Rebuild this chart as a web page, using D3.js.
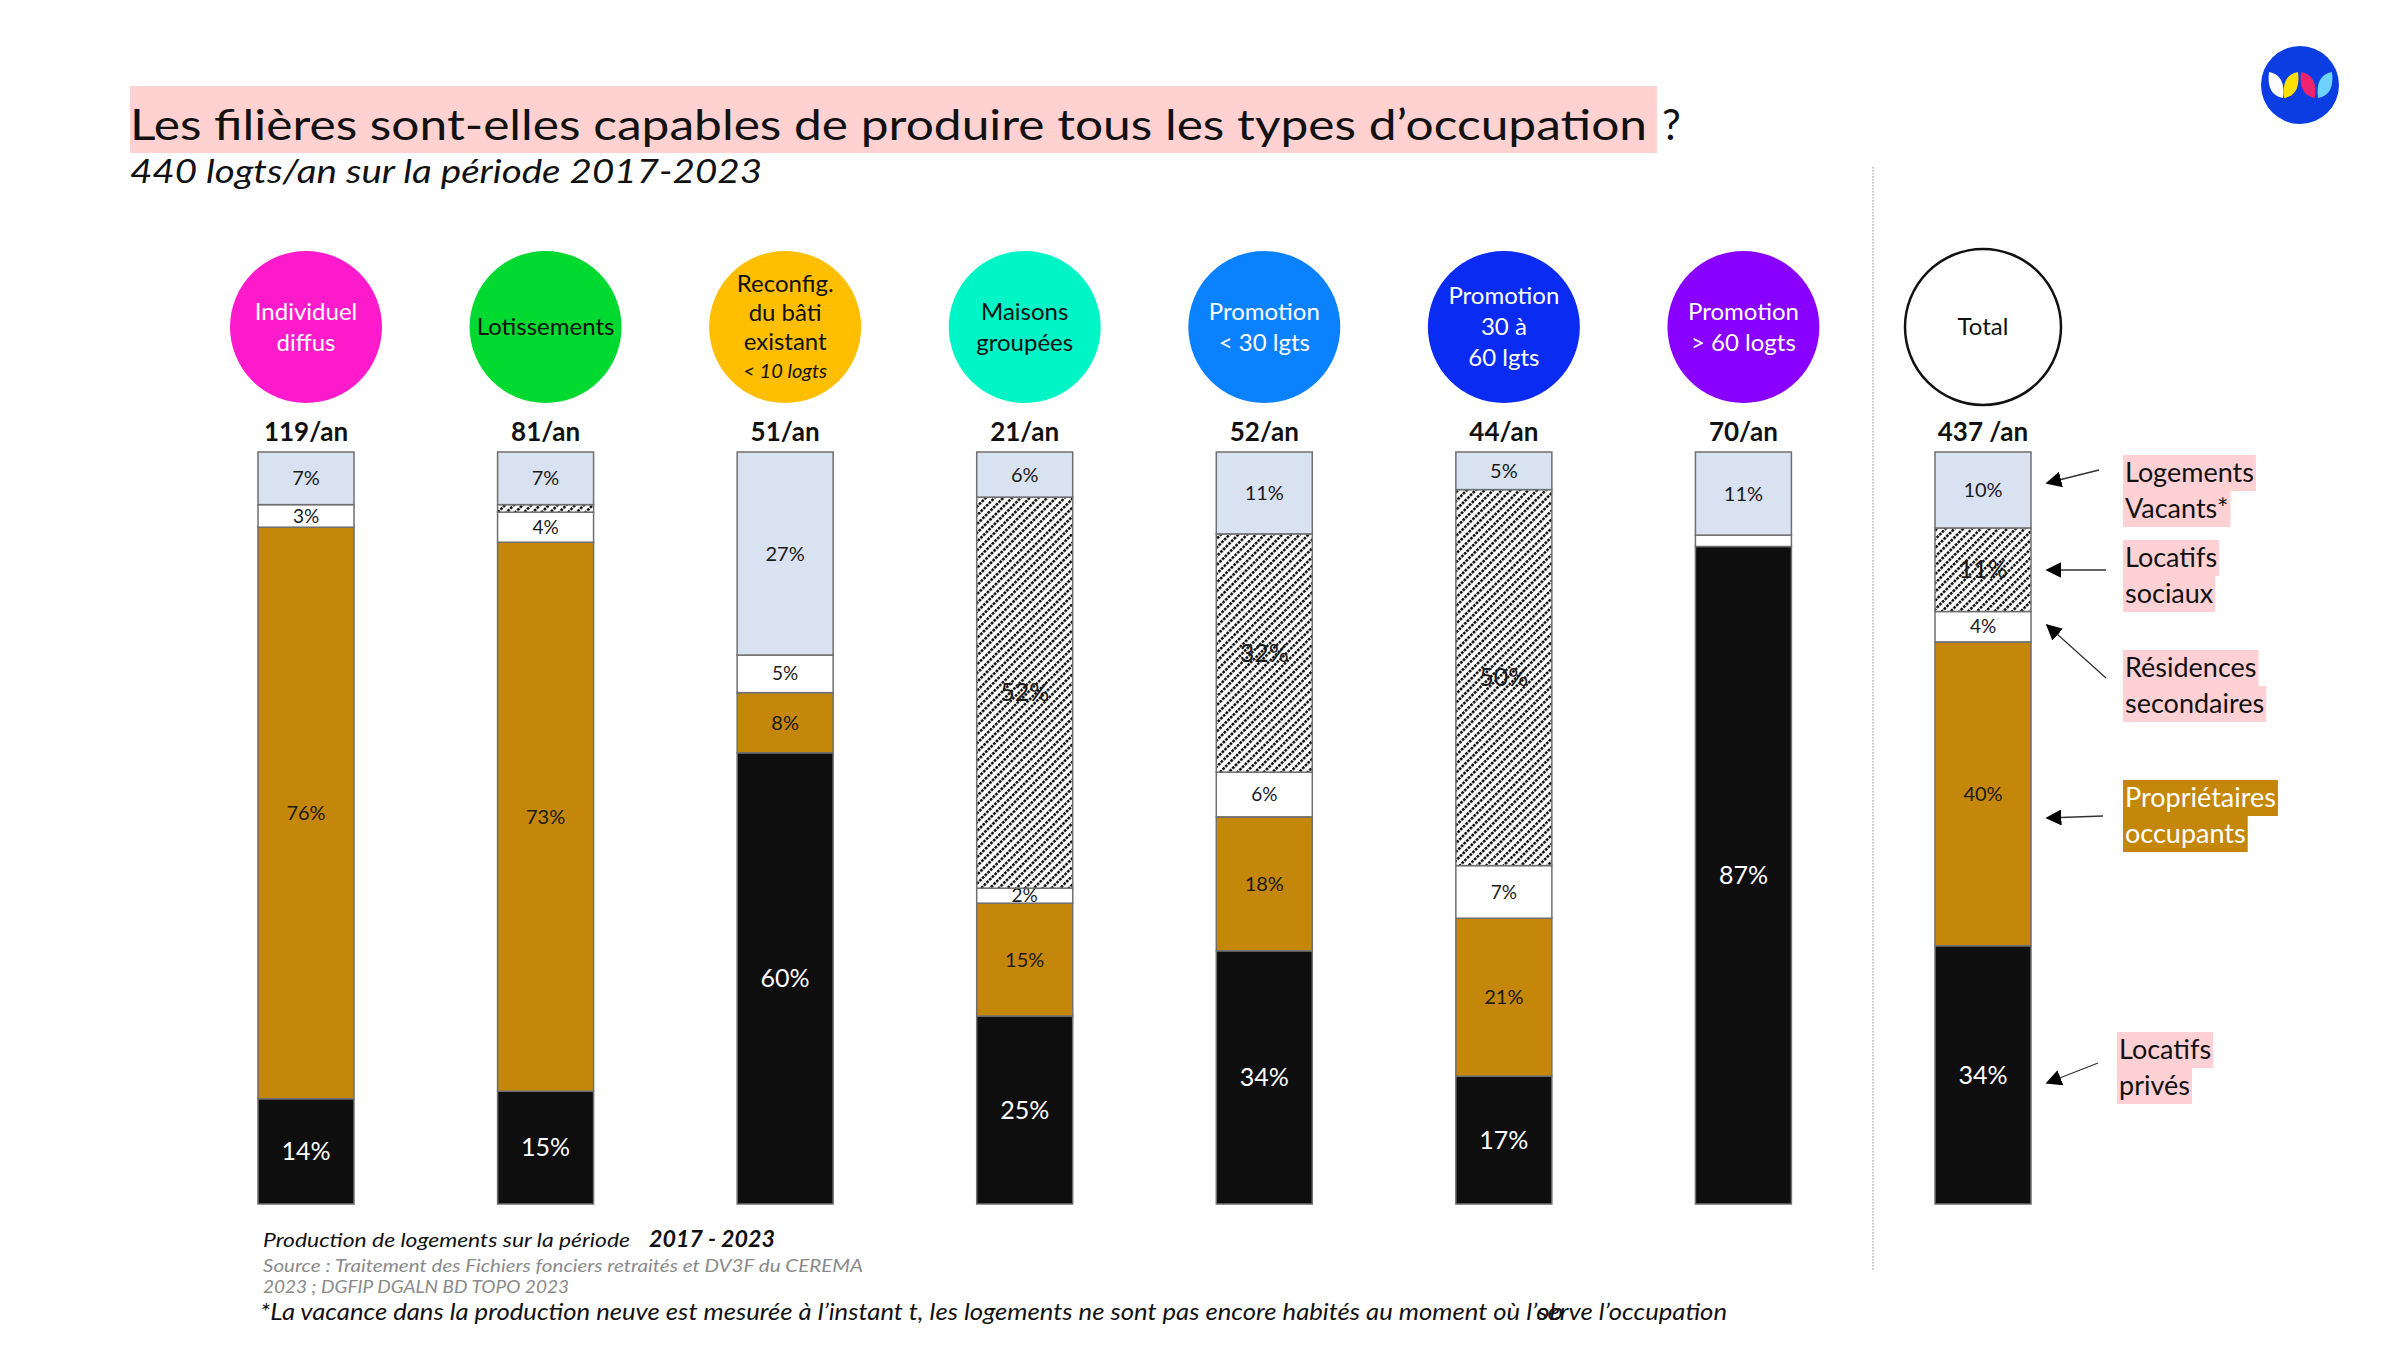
<!DOCTYPE html>
<html>
<head>
<meta charset="utf-8">
<script src="https://cdn.jsdelivr.net/npm/d3@7"></script>
<style>
  body { margin: 0; background: #fff; }
  svg { display: block; font-family: Lato, "Open Sans", sans-serif; }
</style>
</head>
<body>
<div id="chart"></div>
<script>
// filières (one column each), the last one is the total
const categories = ["Individuel diffus", "Lotissements", "Reconfig. du bâti existant", "Maisons groupées",
  "Promotion < 30 lgts", "Promotion 30 à 60 lgts", "Promotion > 60 logts", "Total"];
const circleLines = [["Individuel", "diffus"], ["Lotissements"], ["Reconfig.", "du bâti", "existant", "< 10 logts"],
  ["Maisons", "groupées"], ["Promotion", "< 30 lgts"], ["Promotion", "30 à", "60 lgts"], ["Promotion", "> 60 logts"], ["Total"]];
const annualLabels = ["119/an", "81/an", "51/an", "21/an", "52/an", "44/an", "70/an", "437 /an"];
const circleColors = ["#FF1ACB", "#00D92F", "#FFBE00", "#00F5C6", "#0A82FF", "#0A2BF2", "#8A00FF", "#FFFFFF"];
const circleTextColors = ["#fff", "#111", "#111", "#111", "#fff", "#fff", "#fff", "#111"];

// part of each type of occupation (%)
const locatifsPrives        = [14, 15, 60, 25, 34, 17, 87, 34];
const proprietaires         = [76, 73,  8, 15, 18, 21,  0, 40];
const residencesSecondaires = [ 3,  4,  5,  2,  6,  7, 1.5, 4];
const locatifsSociaux       = [ 0,  1,  0, 52, 32, 50,  0, 11];
const logementsVacants      = [ 7,  7, 27,  6, 11,  5, 11, 10];

const seriesKeys = ["prives", "proprio", "secondaires", "sociaux", "vacants"];
const seriesNames = [["Locatifs", "privés"], ["Propriétaires", "occupants"], ["Résidences", "secondaires"],
  ["Locatifs", "sociaux"], ["Logements", "Vacants*"]];

const W = 2400, H = 1350;
const svg = d3.select("#chart").append("svg").attr("width", W).attr("height", H);
svg.append("rect").attr("width", W).attr("height", H).attr("fill", "#fff");

const defs = svg.append("defs");
// dotted diagonal hatch: a column of dots, rotated to "/"
const hatch = defs.append("pattern").attr("id", "hatch").attr("patternUnits", "userSpaceOnUse")
  .attr("width", 6.2).attr("height", 3.8).attr("patternTransform", "rotate(45)");
hatch.append("rect").attr("width", 6.2).attr("height", 3.8).attr("fill", "#fff");
hatch.append("rect").attr("width", 2.5).attr("height", 2.6).attr("fill", "#000");
defs.append("marker").attr("id", "arrow").attr("viewBox", "0 0 10 10").attr("refX", 9).attr("refY", 5)
  .attr("markerWidth", 16).attr("markerHeight", 16).attr("markerUnits", "userSpaceOnUse")
  .attr("orient", "auto")
  .append("path").attr("d", "M0,0 L10,5 L0,10 Z").attr("fill", "#000");

const fills = { prives: "#0E0E0E", proprio: "#C4870A", secondaires: "#FFFFFF", sociaux: "url(#hatch)", vacants: "#D9E2F1" };
const labelColor = { prives: "#fff", proprio: "#1a1a1a", secondaires: "#1a1a1a", sociaux: "#1a1a1a", vacants: "#1a1a1a" };
const labelSize = { prives: 25, proprio: 20, secondaires: 19, sociaux: 25, vacants: 20 };

// ---- title ----
svg.append("rect").attr("x", 130).attr("y", 86).attr("width", 1527).attr("height", 67).attr("fill", "#FFD1D1");
svg.append("text").attr("x", 130).attr("y", 140).attr("font-size", 42).attr("fill", "#111")
  .attr("textLength", 1517).attr("lengthAdjust", "spacingAndGlyphs")
  .text("Les filières sont-elles capables de produire tous les types d’occupation");
svg.append("text").attr("x", 1662).attr("y", 140).attr("font-size", 42).attr("fill", "#111").text("?");
svg.append("text").attr("x", 130).attr("y", 183).attr("font-size", 33).attr("font-style", "italic")
  .attr("fill", "#111").attr("textLength", 632).attr("lengthAdjust", "spacingAndGlyphs")
  .text("440 logts/an sur la période 2017-2023");

// ---- logo ----
const logo = svg.append("g").attr("transform", "translate(2300,85)");
logo.append("circle").attr("r", 39).attr("fill", "#0B3DE3");
[["#fff", -24, 1], ["#FFE100", -9, -1], ["#F0236E", 8, 1], ["#6FD3FF", 25, -1]].forEach(([c, dx, s]) => {
  logo.append("path").attr("fill", c)
    .attr("d", `M${dx - 7 * s},-13 Q${dx - 10 * s},10 ${dx + 7 * s},13 Q${dx + 10 * s},-10 ${dx - 7 * s},-13 Z`);
});

// ---- scales ----
const x = d3.scalePoint().domain(categories).range([306, 1983]);
const y = d3.scaleLinear().domain([0, 1]).range([1204, 452]);
const barW = 96;

const rows = categories.map((c, i) => ({
  cat: c, prives: locatifsPrives[i], proprio: proprietaires[i], secondaires: residencesSecondaires[i],
  sociaux: locatifsSociaux[i], vacants: logementsVacants[i]
}));
const stacked = d3.stack().keys(seriesKeys).offset(d3.stackOffsetExpand)(rows);

// separator before total
svg.append("line").attr("x1", 1873).attr("x2", 1873).attr("y1", 167).attr("y2", 1270)
  .attr("stroke", "#b5b5b5").attr("stroke-width", 1.5).attr("stroke-dasharray", "1.5,1.5");

// ---- circles ----
const heads = svg.append("g").selectAll("g").data(categories).join("g")
  .attr("transform", d => `translate(${x(d)},327)`);
heads.append("circle").attr("r", (d, i) => i === 7 ? 78 : 76)
  .attr("fill", (d, i) => circleColors[i])
  .attr("stroke", (d, i) => i === 7 ? "#111" : "none").attr("stroke-width", 2.5);
heads.each(function (d, i) {
  const lines = circleLines[i];
  const lh = lines.length > 3 ? 29 : 31;
  const t = d3.select(this).append("text").attr("text-anchor", "middle").attr("fill", circleTextColors[i])
    .attr("font-size", 24);
  lines.forEach((l, j) => {
    t.append("tspan").attr("x", 0).attr("y", (j - (lines.length - 1) / 2) * lh)
      .attr("dy", "0.35em")
      .attr("font-style", (i === 2 && j === 3) ? "italic" : null)
      .attr("font-size", (i === 2 && j === 3) ? 20 : null)
      .text(l);
  });
});

// annual volume
svg.append("g").selectAll("text").data(categories).join("text")
  .attr("x", d => x(d)).attr("y", 441).attr("text-anchor", "middle")
  .attr("font-size", 26).attr("font-weight", 700).attr("fill", "#111")
  .text((d, i) => annualLabels[i]);

// ---- bars ----
const layers = svg.append("g").selectAll("g").data(stacked).join("g");
layers.selectAll("rect").data(s => s.map(p => Object.assign(p, { key: s.key }))).join("rect")
  .attr("x", p => x(p.data.cat) - barW / 2).attr("width", barW)
  .attr("y", p => y(p[1])).attr("height", p => y(p[0]) - y(p[1]))
  .attr("fill", p => fills[p.key])
  .attr("stroke", "#6f6f6f").attr("stroke-width", 1.5);

layers.selectAll("text").data(s => s.filter(p => p.data[s.key] >= 2)).join("text")
  .attr("x", p => x(p.data.cat)).attr("y", p => y((p[0] + p[1]) / 2))
  .attr("dy", "0.35em").attr("text-anchor", "middle")
  .attr("font-size", p => labelSize[p.key]).attr("fill", p => labelColor[p.key])
  .text(p => Math.round(p.data[p.key]) + "%");

// ---- legend annotations next to the total bar ----
const annot = {
  vacants:     { y: 473, from: [2099, 470], to: [2047, 483] },
  sociaux:     { y: 558, from: [2106, 570], to: [2047, 570] },
  secondaires: { y: 668, from: [2106, 678], to: [2047, 625] },
  proprio:     { y: 798, from: [2103, 816], to: [2047, 818] },
  prives:      { y: 1050, from: [2098, 1063], to: [2047, 1083] }
};
seriesKeys.forEach((k, i) => {
  const a = annot[k];
  const gold = k === "proprio";
  const lx = k === "prives" ? 2117 : 2123;
  seriesNames[i].forEach((l, j) => {
    const cy = a.y + j * 36;
    const bg = svg.append("rect").attr("fill", gold ? "#C4870A" : "#FFD1D5");
    const t = svg.append("text").attr("x", lx + 2).attr("y", cy).attr("dy", "0.35em")
      .attr("font-size", 27).attr("fill", gold ? "#fff" : "#111").text(l);
    let w = t.node().getComputedTextLength() + 4;
    if (gold && j === 0) w = Math.min(w, 157);
    bg.attr("x", lx).attr("y", cy - 18).attr("width", w).attr("height", 36);
  });
  svg.append("line").attr("x1", a.from[0]).attr("y1", a.from[1]).attr("x2", a.to[0]).attr("y2", a.to[1])
    .attr("stroke", "#333").attr("stroke-width", 1.3).attr("marker-end", "url(#arrow)");
});

// ---- footer ----
svg.append("text").attr("x", 263).attr("y", 1247).attr("font-style", "italic").attr("font-size", 19)
  .attr("fill", "#111").attr("textLength", 367).attr("lengthAdjust", "spacingAndGlyphs")
  .text("Production de logements sur la période");
svg.append("text").attr("x", 649).attr("y", 1247).attr("font-style", "italic").attr("font-weight", 700)
  .attr("font-size", 23).attr("fill", "#111").attr("textLength", 126).attr("lengthAdjust", "spacingAndGlyphs")
  .text("2017 - 2023");
svg.append("text").attr("x", 263).attr("y", 1272).attr("font-style", "italic").attr("font-size", 17)
  .attr("fill", "#8a8a8a").attr("textLength", 600).attr("lengthAdjust", "spacingAndGlyphs")
  .text("Source : Traitement des Fichiers fonciers retraités et DV3F du CEREMA");
svg.append("text").attr("x", 263).attr("y", 1293).attr("font-style", "italic").attr("font-size", 17)
  .attr("fill", "#8a8a8a").attr("textLength", 306).attr("lengthAdjust", "spacingAndGlyphs")
  .text("2023 ; DGFIP DGALN BD TOPO 2023");

// footnote: the original has "ob" and "serve" printed over each other
const footA = "*La vacance dans la production neuve est mesurée à l’instant t, les logements ne sont pas encore habités au moment où l’";
const footB = "serve l’occupation";
const fn = svg.append("text").attr("x", 260).attr("y", 1320).attr("font-style", "italic").attr("font-size", 23.5)
  .attr("fill", "#111").text(footA);
const wA = fn.node().getComputedTextLength();
fn.text(footA + "ob");
const wAob = fn.node().getComputedTextLength();
const fn2 = svg.append("text").attr("y", 1320).attr("font-style", "italic").attr("font-size", 23.5)
  .attr("fill", "#111").text(footB);
const wB = fn2.node().getComputedTextLength();
const k = 1467 / (wA + wB);
fn.attr("textLength", wAob * k).attr("lengthAdjust", "spacingAndGlyphs");
fn2.attr("x", 260 + wA * k).attr("textLength", wB * k).attr("lengthAdjust", "spacingAndGlyphs");
</script>
</body>
</html>
